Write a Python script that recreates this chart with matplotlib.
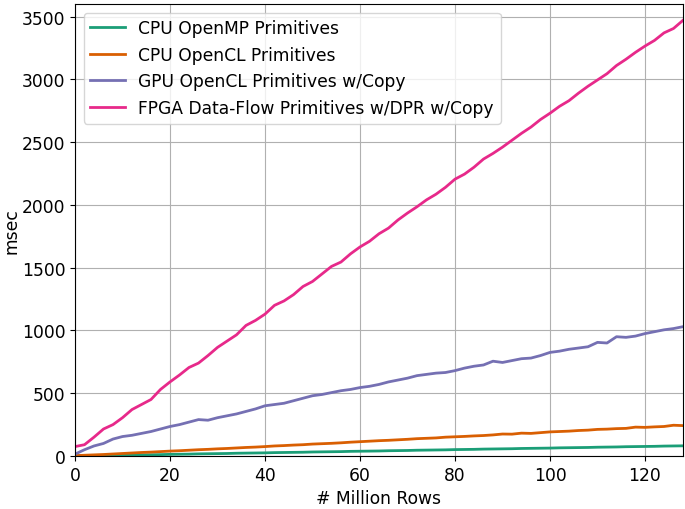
import numpy as np
import matplotlib
matplotlib.use("Agg")
import matplotlib.pyplot as plt

plt.rcParams['font.size'] = 12.3

# x axis: million rows, sampled every 2
rows = list(range(0, 129, 2))

cpu_openmp = [1, 2, 3, 4, 5, 7, 8, 9, 10, 11, 13, 14, 15, 17, 18, 19, 20, 22, 23, 24,
              25, 27, 28, 29, 30, 32, 33, 34, 35, 37, 38, 39, 40, 42, 43, 44, 46, 47, 48, 49,
              51, 52, 53, 55, 56, 57, 58, 60, 61, 62, 63, 65, 66, 67, 68, 70, 71, 72, 74, 75,
              76, 77, 79, 80, 81]

cpu_opencl = [3, 6, 9, 12, 16, 20, 24, 28, 31, 35, 39, 42, 46, 50, 53, 57, 60, 64, 68, 71,
              75, 80, 83, 87, 90, 95, 98, 101, 105, 110, 114, 118, 122, 125, 129, 133, 138, 141, 144, 150,
              153, 156, 160, 163, 168, 175, 174, 182, 180, 186, 192, 195, 198, 203, 206, 212, 214, 218, 220, 230,
              228, 232, 235, 245, 242]

gpu_opencl = [15, 50, 80, 100, 135, 155, 165, 180, 195, 215, 235, 250, 270, 290, 285, 305, 320, 335, 355, 375,
              400, 410, 420, 440, 460, 480, 490, 505, 520, 530, 545, 555, 570, 590, 605, 620, 640, 650, 660, 665,
              680, 700, 715, 725, 755, 745, 760, 775, 780, 800, 825, 835, 850, 860, 870, 905, 900, 950, 945, 955,
              975, 990, 1005, 1015, 1030]

fpga_dpr = [75, 90, 150, 215, 250, 305, 370, 410, 450, 530, 590, 645, 705, 740, 800, 865, 915, 965, 1040, 1080,
            1130, 1200, 1235, 1285, 1350, 1390, 1450, 1510, 1545, 1610, 1665, 1710, 1770, 1815, 1880, 1935, 1985, 2040, 2085, 2140,
            2205, 2245, 2300, 2365, 2410, 2460, 2515, 2570, 2620, 2680, 2730, 2785, 2830, 2890, 2945, 2995, 3045, 3110, 3160, 3215,
            3265, 3310, 3370, 3405, 3470]

labels = ["CPU OpenMP Primitives", "CPU OpenCL Primitives",
          "GPU OpenCL Primitives w/Copy", "FPGA Data-Flow Primitives w/DPR w/Copy"]
colors = ["#1b9e77", "#d95f02", "#7570b3", "#e7298a"]

fig = plt.figure(figsize=(6.85, 5.10), dpi=100)
ax = fig.add_axes([75 / 685, 53 / 510, 608 / 685, 452 / 510])

for series, lab, col in zip([cpu_openmp, cpu_opencl, gpu_opencl, fpga_dpr], labels, colors):
    ax.plot(rows, series, color=col, linewidth=2, label=lab)

ax.set_xlim(0, 128)
ax.set_ylim(0, 3600)
ax.set_yticks(np.arange(0, 3501, 500))
ax.set_xlabel("# Million Rows")
ax.set_ylabel("msec", labelpad=1)
ax.grid(True)
ax.legend(loc="upper left")

fig.savefig("out.png", dpi=100)
